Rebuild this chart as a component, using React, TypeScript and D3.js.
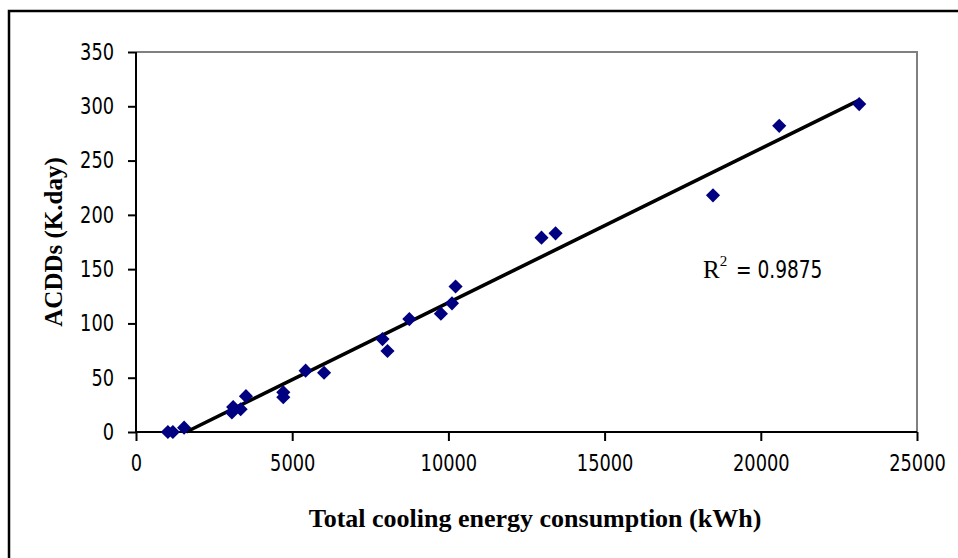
import React, { useEffect, useRef } from "react";
import * as d3 from "d3";

// energy (kWh) vs ACDDs (K.day)
const energyKWh = [1020, 1180, 1540, 3070, 3110, 3350, 3520, 4715, 4715, 5430, 6020, 7890, 8050, 8750, 9760, 10115, 10230, 12980, 13430, 18470, 20590, 23150];
const acdds = [0, 0, 4, 18, 23, 21, 33, 36.5, 32, 56.5, 54.6, 85.6, 74.6, 104, 109, 118.5, 134, 179, 183, 218, 282, 302];
const xTicks = [0, 5000, 10000, 15000, 20000, 25000];
const yTicks = [0, 50, 100, 150, 200, 250, 300, 350];
const rSquared = "0.9875";

const W = 958;
const H = 558;
const margin = { top: 52, right: 41, bottom: 126, left: 136 };

const narrow = "'Liberation Sans Narrow', 'DejaVu Sans Condensed', 'Arial Narrow', sans-serif";
const serif = "'Liberation Serif', 'Times New Roman', serif";
const squeeze = 0.86; // tick digits are tall and narrow in the original

export default function App() {
  const ref = useRef<SVGSVGElement>(null);

  useEffect(() => {
    const svg = d3.select(ref.current);
    svg.selectAll("*").remove();

    const x = d3.scaleLinear().domain([0, 25000]).range([margin.left, W - margin.right]);
    const y = d3.scaleLinear().domain([0, 350]).range([H - margin.bottom, margin.top]);

    // outer chart frame (runs off the right/bottom edge)
    svg.append("rect")
      .attr("x", 9).attr("y", 11)
      .attr("width", W + 20).attr("height", H + 20)
      .attr("fill", "white")
      .attr("stroke", "black")
      .attr("stroke-width", 2.5);

    // plot area border, grey top + right
    svg.append("path")
      .attr("d", `M${x(0)},${y(350)}H${x(25000)}V${y(0)}`)
      .attr("fill", "none")
      .attr("stroke", "#808080")
      .attr("stroke-width", 2);

    const xAxis = svg.append("g")
      .attr("transform", `translate(0,${y(0)})`)
      .call(d3.axisBottom(x).tickValues(xTicks).tickSize(9).tickPadding(14).tickFormat(d3.format("d")));
    const yAxis = svg.append("g")
      .attr("transform", `translate(${x(0)},0)`)
      .call(d3.axisLeft(y).tickValues(yTicks).tickSize(8).tickPadding(14).tickFormat(d3.format("d")));

    [xAxis, yAxis].forEach(g => {
      g.select(".domain").attr("stroke", "black").attr("stroke-width", 2);
      g.selectAll(".tick line").attr("stroke", "black").attr("stroke-width", 2);
      g.selectAll(".tick text")
        .attr("fill", "black")
        .style("font-family", narrow)
        .style("font-size", "23px");
    });
    xAxis.selectAll(".tick text").attr("transform", `scale(${squeeze},1)`);
    yAxis.selectAll(".tick text")
      .attr("x", -22 / squeeze)
      .attr("transform", `scale(${squeeze},1)`);
    xAxis.select(".domain").attr("d", `M${x(0)},0H${x(25000)}`);
    yAxis.select(".domain").attr("d", `M0,${y(0)}V${y(350)}`);

    // linear regression trendline
    const mx = d3.mean(energyKWh)!;
    const my = d3.mean(acdds)!;
    let sxy = 0, sxx = 0;
    energyKWh.forEach((v, i) => {
      sxy += (v - mx) * (acdds[i] - my);
      sxx += (v - mx) * (v - mx);
    });
    const slope = sxy / sxx;
    const icpt = my - slope * mx;
    const x0 = Math.max(d3.min(energyKWh)!, -icpt / slope);
    const x1 = d3.max(energyKWh)!;

    svg.append("line")
      .attr("x1", x(x0)).attr("y1", y(slope * x0 + icpt))
      .attr("x2", x(x1)).attr("y2", y(slope * x1 + icpt))
      .attr("stroke", "black")
      .attr("stroke-width", 3.6);

    const diamond = d3.symbol().type(d3.symbolSquare).size(100);
    svg.selectAll(".pt")
      .data(energyKWh)
      .enter().append("path")
      .attr("class", "pt")
      .attr("d", diamond)
      .attr("transform", (d, i) => `translate(${x(d)},${y(acdds[i])}) rotate(45)`)
      .attr("fill", "#000080");

    // R² label
    const r2 = svg.append("text")
      .attr("transform", `translate(703,278)`)
      .attr("fill", "black")
      .style("font-size", "25px");
    r2.append("tspan").style("font-family", serif).text("R");
    r2.append("tspan").style("font-family", serif).style("font-size", "15px").attr("dy", -12).text("2");
    svg.append("text")
      .attr("transform", `translate(736,278) scale(${squeeze},1)`)
      .attr("fill", "black")
      .style("font-family", narrow)
      .style("font-size", "24px")
      .text(`= ${rSquared}`);

    svg.append("text")
      .attr("x", 535).attr("y", 527)
      .attr("text-anchor", "middle")
      .style("font-family", serif)
      .style("font-weight", "bold")
      .style("font-size", "26px")
      .text("Total cooling energy consumption (kWh)");

    svg.append("text")
      .attr("transform", `translate(62,${(y(0) + y(350)) / 2}) rotate(-90)`)
      .attr("text-anchor", "middle")
      .style("font-family", serif)
      .style("font-weight", "bold")
      .style("font-size", "25px")
      .text("ACDDs (K.day)");
  }, []);

  return (
    <svg ref={ref} width={W} height={H}
      style={{ position: "absolute", left: 0, top: 0, background: "white" }} />
  );
}
